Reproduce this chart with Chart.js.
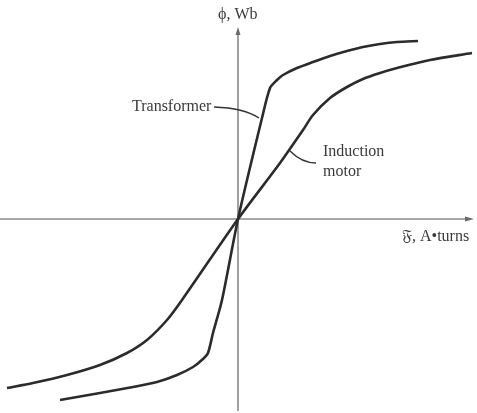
<!DOCTYPE html>
<html>
<head>
<meta charset="utf-8">
<script src="https://cdn.jsdelivr.net/npm/chart.js@4/dist/chart.umd.min.js"></script>
<style>
  html, body { margin: 0; padding: 0; background: #fff; }
  #wrap { width: 477px; height: 413px; }
</style>
</head>
<body>
<div id="wrap"><canvas id="bh"></canvas></div>
<script>
// magnetization curves (mmf -> flux, arbitrary units)
const transformerMmf  = [-178, -138, -105, -81, -61, -45, -35, -30, -25, -16, 0, 24, 32, 39, 45, 59, 75, 92, 109, 125, 142, 159, 180];
const transformerFlux = [-181, -174, -168, -163, -156, -148, -140, -134, -114, -81, 0, 101, 131, 139, 144, 151, 157, 163, 168, 172, 175, 177, 178];
const motorMmf  = [-231, -205, -171, -138, -111, -91, -71, -56, 0, 42, 65, 75, 92, 109, 125, 142, 159, 192, 234];
const motorFlux = [-169, -164, -156, -146, -134, -121, -101, -81, 0, 56, 89, 104, 121, 132, 140, 146, 151, 159, 166];

const xRange = [-238, 239];
const yRange = [-194, 219];

const toPts = (xs, ys) => xs.map((x, i) => ({ x, y: ys[i] }));

const serif = '"Liberation Serif", "DejaVu Serif", serif';

const figurePlugin = {
    id: 'figure',
    beforeDatasetsDraw(chart) {
        const { ctx, scales: { x, y } } = chart;
        const x0 = x.getPixelForValue(0), y0 = y.getPixelForValue(0);
        ctx.save();
        ctx.strokeStyle = '#8a8a8a';
        ctx.fillStyle = '#6a6a6a';
        ctx.lineWidth = 1.6;
        // vertical axis
        ctx.beginPath();
        ctx.moveTo(x0, y.getPixelForValue(-192));
        ctx.lineTo(x0, y.getPixelForValue(188));
        ctx.stroke();
        ctx.beginPath();
        ctx.moveTo(x0, y.getPixelForValue(192));
        ctx.lineTo(x0 - 2.5, y.getPixelForValue(184));
        ctx.lineTo(x0 + 2.5, y.getPixelForValue(184));
        ctx.closePath();
        ctx.fill();
        // horizontal axis
        ctx.beginPath();
        ctx.moveTo(x.getPixelForValue(-238), y0);
        ctx.lineTo(x.getPixelForValue(230), y0);
        ctx.stroke();
        ctx.beginPath();
        ctx.moveTo(x.getPixelForValue(236), y0);
        ctx.lineTo(x.getPixelForValue(227), y0 - 2.5);
        ctx.lineTo(x.getPixelForValue(227), y0 + 2.5);
        ctx.closePath();
        ctx.fill();
        ctx.restore();
    },
    afterDatasetsDraw(chart) {
        const { ctx, scales: { x, y } } = chart;
        const px = v => x.getPixelForValue(v), py = v => y.getPixelForValue(v);
        ctx.save();
        ctx.fillStyle = '#3a3a3a';
        ctx.textBaseline = 'middle';
        ctx.font = `16px ${serif}`;
        ctx.textAlign = 'left';
        ctx.fillText('ϕ, Wb', px(-20), py(204));
        ctx.fillText('𝔉, A•turns', px(164), py(-18));
        ctx.fillText('Transformer', px(-106), py(112));
        ctx.fillText('Induction', px(85), py(67));
        ctx.fillText('motor', px(85), py(47));

        // leader lines
        ctx.strokeStyle = '#333';
        ctx.lineWidth = 1.4;
        ctx.beginPath();
        ctx.moveTo(px(-24), py(112));
        ctx.quadraticCurveTo(px(6), py(111), px(21), py(101));
        ctx.stroke();
        ctx.beginPath();
        ctx.moveTo(px(52), py(68));
        ctx.quadraticCurveTo(px(64), py(56), px(78), py(56));
        ctx.stroke();
        ctx.restore();
    }
};

new Chart(document.getElementById('bh'), {
    type: 'scatter',
    data: {
        datasets: [
            {
                label: 'Transformer',
                data: toPts(transformerMmf, transformerFlux),
                showLine: true,
                borderColor: '#2b2b2b',
                borderWidth: 2.6,
                pointRadius: 0,
                tension: 0.25
            },
            {
                label: 'Induction motor',
                data: toPts(motorMmf, motorFlux),
                showLine: true,
                borderColor: '#2b2b2b',
                borderWidth: 2.6,
                pointRadius: 0,
                tension: 0.3
            }
        ]
    },
    options: {
        responsive: true,
        maintainAspectRatio: false,
        animation: false,
        layout: { padding: 0 },
        plugins: { legend: { display: false }, tooltip: { enabled: false } },
        scales: {
            x: { type: 'linear', min: xRange[0], max: xRange[1], display: false },
            y: { type: 'linear', min: yRange[0], max: yRange[1], display: false }
        }
    },
    plugins: [figurePlugin]
});
</script>
</body>
</html>
